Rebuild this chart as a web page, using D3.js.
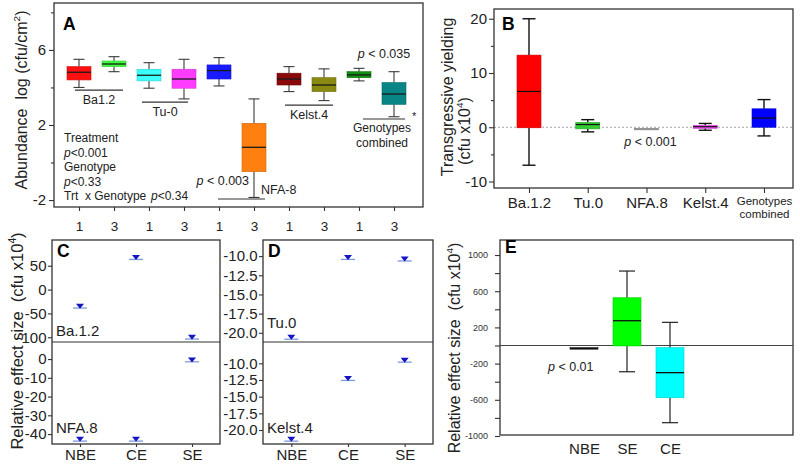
<!DOCTYPE html>
<html><head><meta charset="utf-8">
<script src="https://cdn.jsdelivr.net/npm/d3@7"></script>
<style>body{margin:0;background:#fff} svg{display:block}</style>
</head><body><script>
// ---------------- DATA ----------------
// Panel A: abundance log(cfu/cm2), treatments 1 and 3 per genotype
const aTickLabels = ["1","3","1","3","1","3","1","3","1","3"];
const aGroups = ["Ba1.2","Tu-0","NFA-8","Kelst.4","Genotypes combined"];
const aLow  = [4.00, 4.84, 3.96, 3.39, 4.08, -1.86, 3.78, 3.30, 4.35, 2.44];
const aQ1   = [4.40, 5.11, 4.35, 3.96, 4.45, -0.49, 4.13, 3.78, 4.52, 3.10];
const aMed  = [4.81, 5.25, 4.65, 4.45, 4.90,  0.81, 4.45, 4.13, 4.67, 3.65];
const aQ3   = [5.11, 5.41, 4.97, 4.97, 5.20,  2.09, 4.76, 4.52, 4.84, 4.26];
const aHigh = [5.50, 5.64, 5.32, 5.50, 5.59,  3.39, 5.11, 4.99, 5.02, 4.84];
const aYTicks = [6, 2, -2];
const aYMinor = [8, 4, 0];
const aGroupLineY = [3.86, 3.22, -1.94, 3.06, 2.32];

// Panel B: transgressive yielding (cfu x10^4)
const bCategories = ["Ba.1.2","Tu.0","NFA.8","Kelst.4","Genotypes combined"];
const bLow  = [-7.0, -0.85, -0.2, -0.55, -1.6];
const bQ1   = [-0.1, -0.30, -0.2, -0.20,  0.0];
const bMed  = [ 6.6,  0.50, -0.2,  0.10,  1.7];
const bQ3   = [13.3,  0.90, -0.2,  0.35,  3.4];
const bHigh = [20.0,  1.40, -0.2,  0.70,  5.1];
const bYTicks = [20, 10, 0, -10];
const bYMinor = [15, 5, -5];

// Panels C, D: relative effect size (cfu x10^4)
const effectCategories = ["NBE","CE","SE"];
const cBa12  = [-35, 67, -100];
const cNFA8  = [-42.8, -42.8, -0.5];
const dTu0   = [-20.6, -10.2, -10.4];
const dKelst4 = [-21.4, -12.3, -9.55];
const cUpperTicks = [50, 0, -50, -100];
const cLowerTicks = [0, -10, -20, -30, -40];
const dTicks = [-10, -12.5, -15, -17.5, -20];

// Panel E: relative effect size (cfu x10^4)
const eCategories = ["NBE","SE","CE"];
const eLow  = [-36, -290, -853];
const eQ1   = [-36,   -5, -577];
const eMed  = [-30,  274, -300];
const eQ3   = [-24,  528,  -24];
const eHigh = [-24,  823,  256];
const eYTicks = [1000, 600, 200, -200, -600, -1000];
const eYMinor = [800, 400, 0, -400, -800];

// ---------------- STYLE ----------------
const FONT = '"Liberation Sans", Arial, Helvetica, sans-serif';
const aColors = ["#ff1010","#3cff3c","#3cffff","#ff3cff","#1a1aff","#ff8010","#8a0a0a","#8a8a10","#129012","#0a8585"];
const bColors = ["#ff0000","#33cc33","#9a9a9a","#ff40ff","#0000ff"];
const eColors = ["#111111","#00ff00","#00ffff"];
const TXT = "#222";

const svg = d3.select("body").append("svg")
  .attr("width", 800).attr("height", 467)
  .style("font-family", FONT);
svg.append("rect").attr("width", 800).attr("height", 467).attr("fill", "#fff");

function frame(x0, y0, x1, y1) {
  svg.append("rect").attr("x", x0).attr("y", y0)
    .attr("width", x1 - x0).attr("height", y1 - y0)
    .attr("fill", "none").attr("stroke", "#333").attr("stroke-width", 1.3);
}
function styleAxis(g, size, fill) {
  g.attr("font-family", null).attr("font-size", null);
  g.select(".domain").remove();
  g.selectAll(".tick line").attr("stroke", "#333").attr("stroke-width", 1.1);
  g.selectAll(".tick text").attr("font-size", size).attr("fill", fill || TXT);
  return g;
}
function addText(x, y, parts, o) {
  const t = svg.append("text").attr("x", x).attr("y", y)
    .attr("font-size", o.size).attr("fill", o.fill || TXT)
    .attr("text-anchor", o.anchor || "start").style("white-space", "pre");
  if (o.rotate) t.attr("transform", `rotate(-90 ${x} ${y})`);
  if (o.weight) t.attr("font-weight", o.weight);
  const shift = o.size * 0.42;
  let raised = false;
  parts.forEach(p => {
    const s = t.append("tspan").text(p.t);
    if (p.sup) { s.attr("font-size", o.size * 0.62).attr("dy", -shift); raised = true; }
    else if (raised) { s.attr("dy", shift); raised = false; }
    if (p.it) s.attr("font-style", "italic");
  });
  return t;
}
function drawBoxes(cx, y, n, low, q1, med, q3, high, colors, st) {
  const items = d3.range(n).map(i => ({ i, x: cx(i) }));
  const g = svg.append("g");
  const wk = g.selectAll(null).data(items).join("g");
  wk.filter(d => high[d.i] > q3[d.i]).append("line")
    .attr("x1", d => d.x).attr("x2", d => d.x)
    .attr("y1", d => y(high[d.i])).attr("y2", d => y(q3[d.i]))
    .attr("stroke", st.whisker).attr("stroke-width", st.ww);
  wk.filter(d => high[d.i] > q3[d.i]).append("line")
    .attr("x1", d => d.x - st.capW / 2).attr("x2", d => d.x + st.capW / 2)
    .attr("y1", d => y(high[d.i])).attr("y2", d => y(high[d.i]))
    .attr("stroke", st.whisker).attr("stroke-width", st.ww);
  wk.filter(d => low[d.i] < q1[d.i]).append("line")
    .attr("x1", d => d.x).attr("x2", d => d.x)
    .attr("y1", d => y(q1[d.i])).attr("y2", d => y(low[d.i]))
    .attr("stroke", st.whisker).attr("stroke-width", st.ww);
  wk.filter(d => low[d.i] < q1[d.i]).append("line")
    .attr("x1", d => d.x - st.capW / 2).attr("x2", d => d.x + st.capW / 2)
    .attr("y1", d => y(low[d.i])).attr("y2", d => y(low[d.i]))
    .attr("stroke", st.whisker).attr("stroke-width", st.ww);
  wk.append("rect")
    .attr("x", d => d.x - st.boxW / 2).attr("width", st.boxW)
    .attr("y", d => y(q3[d.i]))
    .attr("height", d => Math.max(1.5, y(q1[d.i]) - y(q3[d.i])))
    .attr("fill", d => colors[d.i])
    .attr("stroke", d => d3.color(colors[d.i]).darker(0.6))
    .attr("stroke-width", 0.6);
  wk.filter(d => q3[d.i] > q1[d.i] + 1e-9 && (y(q1[d.i]) - y(q3[d.i])) > 2).append("line")
    .attr("x1", d => d.x - st.boxW / 2).attr("x2", d => d.x + st.boxW / 2)
    .attr("y1", d => y(med[d.i])).attr("y2", d => y(med[d.i]))
    .attr("stroke", st.median).attr("stroke-width", st.mw);
}

// ---------------- PANEL A ----------------
const xA = d3.scalePoint().domain(d3.range(aTickLabels.length)).range([79, 394]);
const yA = d3.scaleLinear().domain([-2.37, 8.5]).range([207, 3]);
frame(54, 3, 423, 207);
styleAxis(svg.append("g").attr("transform", "translate(54,0)")
  .call(d3.axisLeft(yA).tickValues(aYTicks).tickSize(5).tickPadding(3).tickFormat(d => String(d))), 15);
styleAxis(svg.append("g").attr("transform", "translate(54,0)")
  .call(d3.axisLeft(yA).tickValues(aYMinor).tickSize(3).tickFormat("")), 15);
styleAxis(svg.append("g").attr("transform", "translate(0,207)")
  .call(d3.axisBottom(xA).tickSize(4).tickPadding(10).tickFormat(i => aTickLabels[i])), 13.5);

drawBoxes(i => xA(i), yA, aTickLabels.length, aLow, aQ1, aMed, aQ3, aHigh, aColors,
  { boxW: 24, capW: 11, whisker: "#3a3a3a", ww: 1.1, median: "#1a1a1a", mw: 1.3 });

const aLineOff = [[-4, 9], [-7, 4], [-1, 11], [-4, 9], [4, 11]];
aGroups.forEach((name, k) => {
  const x0 = xA(2 * k) + aLineOff[k][0], x1 = xA(2 * k + 1) + aLineOff[k][1];
  const ly = yA(aGroupLineY[k]);
  svg.append("line").attr("x1", x0).attr("x2", x1).attr("y1", ly).attr("y2", ly)
    .attr("stroke", "#333").attr("stroke-width", 1.1);
  if (k === 2) {
    addText(x1 - 4, ly - 5, [{ t: name }], { size: 12.5 });
    addText(xA(5) - 5, ly - 14, [{ t: "p", it: true }, { t: " < 0.003" }], { size: 12.5, anchor: "end" });
  } else if (k === 4) {
    const words = name.split(" ");
    addText((x0 + x1) / 2 - 2, ly + 13, [{ t: words[0] }], { size: 12, anchor: "middle" });
    addText((x0 + x1) / 2 - 2, ly + 28, [{ t: words[1] }], { size: 12, anchor: "middle" });
    addText(x1 + 7, ly + 1, [{ t: "*" }], { size: 11 });
    addText((x0 + x1) / 2, yA(5.55), [{ t: "p", it: true }, { t: " < 0.035" }], { size: 12.5, anchor: "middle" });
  } else {
    addText((x0 + x1) / 2, ly + 13.5, [{ t: name }], { size: 12.5, anchor: "middle" });
  }
});
addText(64, 142, [{ t: "Treatment" }], { size: 12 });
addText(64, 157, [{ t: "p", it: true }, { t: "<0.001" }], { size: 12 });
addText(64, 171, [{ t: "Genotype" }], { size: 12 });
addText(64, 186, [{ t: "p", it: true }, { t: "<0.33" }], { size: 12 });
addText(64, 200, [{ t: "Trt  x Genotype" }], { size: 12 });
addText(151, 200, [{ t: "p", it: true }, { t: "<0.34" }], { size: 12 });
addText(63, 30, [{ t: "A" }], { size: 17.5, weight: "bold", fill: "#000" });
addText(27, 100, [{ t: "Abundance  log (cfu/cm" }, { t: "2", sup: true }, { t: ")" }],
  { size: 16, anchor: "middle", rotate: true });

// ---------------- PANEL B ----------------
const xB = d3.scalePoint().domain(bCategories).range([529, 764]);
const yB = d3.scaleLinear().domain([-11.2, 21.8]).range([188, 9]);
svg.append("line").attr("x1", 494).attr("x2", 793).attr("y1", yB(0)).attr("y2", yB(0))
  .attr("stroke", "#8a8a8a").attr("stroke-width", 0.8).attr("stroke-dasharray", "2,2");
frame(494, 9, 793, 188);
styleAxis(svg.append("g").attr("transform", "translate(494,0)")
  .call(d3.axisLeft(yB).tickValues(bYTicks).tickSize(5).tickPadding(2).tickFormat(d => String(d))), 15);
styleAxis(svg.append("g").attr("transform", "translate(494,0)")
  .call(d3.axisLeft(yB).tickValues(bYMinor).tickSize(3).tickFormat("")), 15);
const bx = styleAxis(svg.append("g").attr("transform", "translate(0,188)")
  .call(d3.axisBottom(xB).tickSize(5).tickPadding(4)), 15);
bx.selectAll(".tick text").filter(d => d.includes(" ")).each(function (d) {
  const t = d3.select(this).text("").attr("font-size", 11.5).attr("dy", null).attr("y", 17);
  const w = d.split(" ");
  t.append("tspan").attr("x", 0).text(w[0]);
  t.append("tspan").attr("x", 0).attr("dy", 13).text(w[1]);
});
drawBoxes(i => xB(bCategories[i]), yB, bCategories.length, bLow, bQ1, bMed, bQ3, bHigh, bColors,
  { boxW: 24, capW: 13, whisker: "#111", ww: 1.4, median: "#111", mw: 1.2 });
addText(xB("NFA.8") + 4, yB(-3.4), [{ t: "p", it: true }, { t: " < 0.001" }], { size: 12.5, anchor: "middle" });
addText(502, 30, [{ t: "B" }], { size: 17.5, weight: "bold", fill: "#000" });
addText(453, 97, [{ t: "Transgressive yielding" }], { size: 16, anchor: "middle", rotate: true });
addText(470, 131, [{ t: "(cfu x10" }, { t: "4", sup: true }, { t: ")" }], { size: 16, anchor: "middle", rotate: true });

// ---------------- PANELS C, D ----------------
function effectPanel(o) {
  const x = d3.scalePoint().domain(effectCategories).range([o.x0, o.x1]).padding(0.5);
  const yU = d3.scaleLinear().domain(o.upDom).range([o.mid, o.top]);
  const yL = d3.scaleLinear().domain(o.loDom).range([o.bottom, o.mid]);
  frame(o.x0, o.top, o.x1, o.bottom);
  svg.append("line").attr("x1", o.x0).attr("x2", o.x1).attr("y1", o.mid).attr("y2", o.mid)
    .attr("stroke", "#333").attr("stroke-width", 1.2);
  styleAxis(svg.append("g").attr("transform", `translate(${o.x0},0)`)
    .call(d3.axisLeft(yU).tickValues(o.upTicks).tickSize(4).tickPadding(o.pad).tickFormat(o.fmt)), 15);
  styleAxis(svg.append("g").attr("transform", `translate(${o.x0},0)`)
    .call(d3.axisLeft(yL).tickValues(o.loTicks).tickSize(4).tickPadding(o.pad).tickFormat(o.fmt)), 15);
  styleAxis(svg.append("g").attr("transform", `translate(0,${o.bottom})`)
    .call(d3.axisBottom(x).tickSize(3).tickPadding(2.5)), 15);
  [[o.upVals, yU], [o.loVals, yL]].forEach(([vals, y]) => {
    const m = svg.append("g").selectAll(null)
      .data(effectCategories.map((c, i) => ({ c, v: vals[i] })))
      .join("g").attr("transform", d => `translate(${x(d.c)},${y(d.v)})`);
    m.append("line").attr("x1", -7).attr("x2", 7).attr("y1", 1.8).attr("y2", 1.8)
      .attr("stroke", "#7b98dc").attr("stroke-width", 1.3);
    m.append("path").attr("d", "M-4,-2.6L4,-2.6L0,2.4Z").attr("fill", "#1414c4");
  });
  addText(o.x0 + 4, o.upLabelY, [{ t: o.upLabel }], { size: 15 });
  addText(o.x0 + 4, o.bottom - 11, [{ t: o.loLabel }], { size: 15 });
  addText(o.x0 + 5, o.top + 17, [{ t: o.letter }], { size: 17.5, weight: "bold", fill: "#000" });
}
effectPanel({ x0: 52, x1: 220, top: 240, mid: 342, bottom: 444,
  upDom: [-110, 104], loDom: [-45.3, 9.1], upTicks: cUpperTicks, loTicks: cLowerTicks,
  upVals: cBa12, loVals: cNFA8, upLabel: "Ba.1.2", loLabel: "NFA.8", upLabelY: 336,
  letter: "C", fmt: d => String(d), pad: 1.5 });
effectPanel({ x0: 263, x1: 433, top: 240, mid: 342, bottom: 444,
  upDom: [-21.2, -7.9], loDom: [-22.1, -6.8], upTicks: dTicks, loTicks: dTicks,
  upVals: dTu0, loVals: dKelst4, upLabel: "Tu.0", loLabel: "Kelst.4", upLabelY: 328,
  letter: "D", fmt: d => d.toFixed(1), pad: 1.5 });
addText(23, 341, [{ t: "Relative effect size  (cfu x10" }, { t: "4", sup: true }, { t: ")" }],
  { size: 16.5, anchor: "middle", rotate: true });

// ---------------- PANEL E ----------------
const xE = d3.scalePoint().domain(eCategories).range([584, 670]);
const yE = d3.scaleLinear().domain([-989, 1166]).range([435, 240]);
frame(500, 240, 793, 435);
svg.append("line").attr("x1", 500).attr("x2", 793).attr("y1", yE(0)).attr("y2", yE(0))
  .attr("stroke", "#444").attr("stroke-width", 1.2);
styleAxis(svg.append("g").attr("transform", "translate(500,0)")
  .call(d3.axisLeft(yE).tickValues(eYTicks).tickSize(5).tickPadding(7).tickFormat(d => String(d))), 9, "#333");
styleAxis(svg.append("g").attr("transform", "translate(500,0)")
  .call(d3.axisLeft(yE).tickValues(eYMinor).tickSize(5).tickFormat("")), 9);
styleAxis(svg.append("g").attr("transform", "translate(0,435)")
  .call(d3.axisBottom(xE).tickSize(0).tickPadding(8)), 15);
drawBoxes(i => xE(eCategories[i]), yE, eCategories.length, eLow, eQ1, eMed, eQ3, eHigh, eColors,
  { boxW: 28, capW: 16, whisker: "#222", ww: 1.2, median: "#111", mw: 1.3 });
addText(xE("NBE") - 36, yE(-285), [{ t: "p", it: true }, { t: " < 0.01" }], { size: 12.5 });
addText(505, 253, [{ t: "E" }], { size: 17.5, weight: "bold", fill: "#000" });
addText(460, 348, [{ t: "Relative effect size  (cfu x10" }, { t: "4", sup: true }, { t: ")" }],
  { size: 16, anchor: "middle", rotate: true });
</script></body></html>
